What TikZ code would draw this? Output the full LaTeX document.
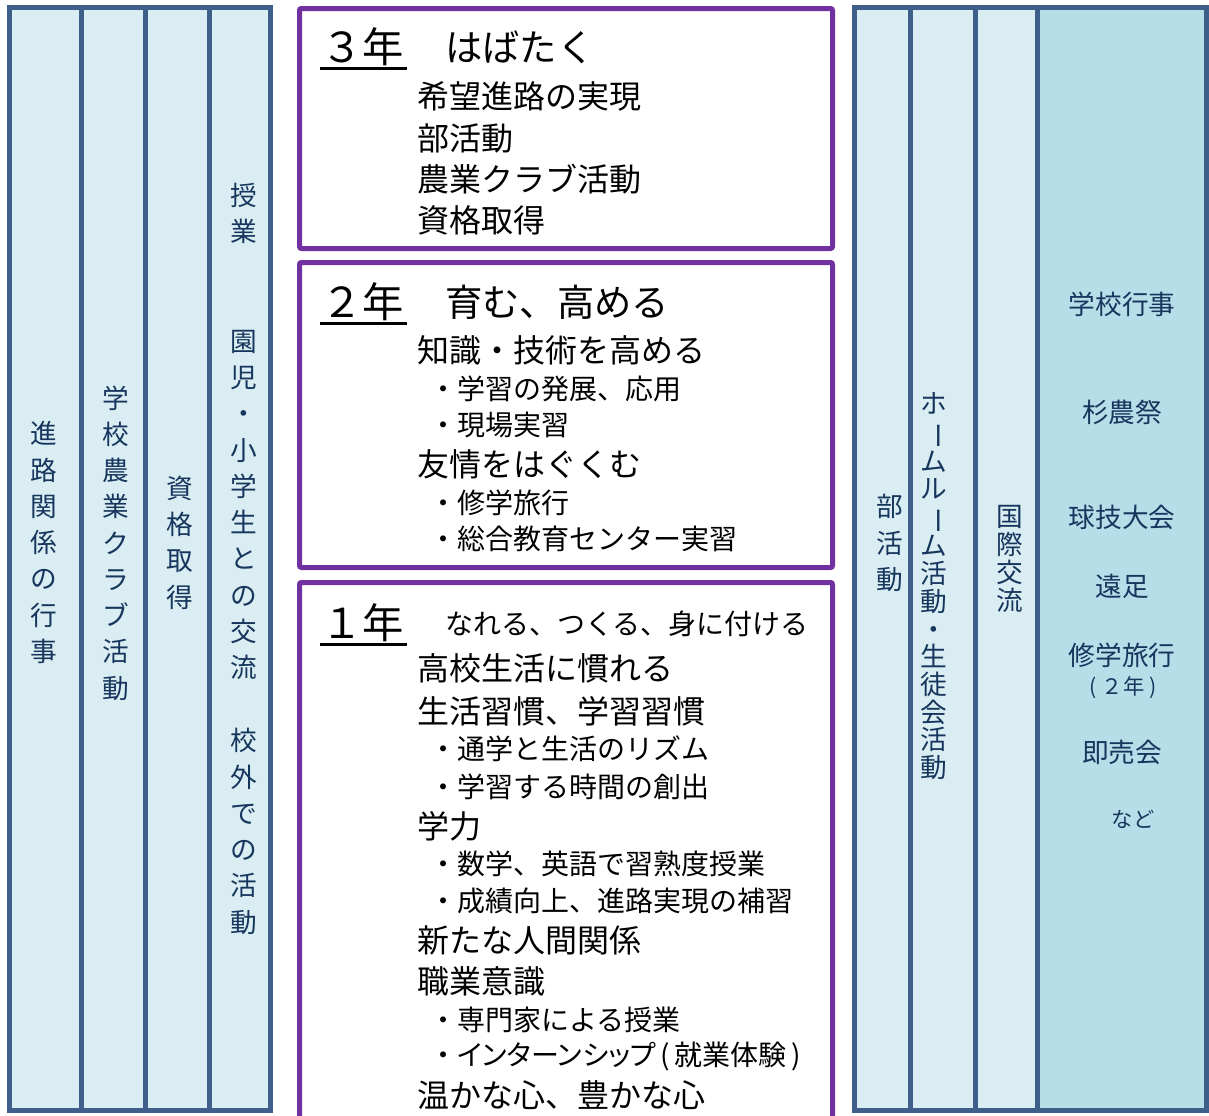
\documentclass[tikz,border=0pt]{standalone}
\usepackage{graphicx}
\usepackage{fontspec}
\setmainfont{Noto Sans CJK JP}
\definecolor{colline}{RGB}{61,95,138}
\definecolor{colfill}{RGB}{218,237,243}
\definecolor{colfilldark}{RGB}{183,221,232}
\definecolor{yearpurple}{RGB}{112,48,160}
\definecolor{navy}{RGB}{23,54,93}
\newcommand{\tatebar}{\rotatebox[origin=c]{-90}{ー}}
\newcommand{\propkana}[1]{{\addfontfeature{RawFeature=+palt}#1}}
\tikzset{
  col/.style={draw=colline, line width=3.75pt, fill=colfill},
  coldark/.style={col, fill=colfilldark},
  yearbox/.style={draw=yearpurple, line width=3.75pt, rounded corners=1.5pt},
  coltext/.style={text=navy, align=center, inner sep=0pt, font=\fontsize{20}{27.2}\selectfont},
  coltight/.style={coltext, font=\fontsize{20}{20.8}\selectfont},
  evtext/.style={text=navy, inner sep=0pt, font=\fontsize{20}{24}\selectfont},
  evsmall/.style={evtext, font=\fontsize{16}{19}\selectfont},
  yearlabel/.style={anchor=west, inner sep=0pt, font=\fontsize{31}{36}\selectfont},
  tagline/.style={anchor=west, inner sep=0pt, font=\fontsize{28}{32}\selectfont},
  mainitem/.style={anchor=west, inner sep=0pt, font=\fontsize{24}{28}\selectfont},
  subitem/.style={anchor=west, inner sep=0pt, font=\fontsize{21}{25}\selectfont},
  uline/.style={line width=2.25pt}
}
\begin{document}
\begin{tikzpicture}[x=0.75pt,y=-0.75pt]
\useasboundingbox (0,0) rectangle (1209,1115);

% left columns
\foreach \a/\b in {9.5/81,81/145.5,145.5/209.5,209.5/270.5}
{	\draw[col] (\a,7.5) rectangle (\b,1110.5);
}
\node[coltext] (shinro) at (44,542.5) {進\\路\\関\\係\\の\\行\\事};
\node[coltext] (club) at (116,543) {学\\校\\農\\業\\ク\\ラ\\ブ\\活\\動};
\node[coltext] (shikaku) at (180,542.5) {資\\格\\取\\得};
\node[coltext] (jugyo) at (244,213.5) {授\\業};
\node[coltext] (koryu) at (244,505) {園\\児\\・\\小\\学\\生\\と\\の\\交\\流};
\node[coltext] (kogai) at (244,831.5) {校\\外\\で\\の\\活\\動};

% right columns
\foreach \a/\b in {854.5/910.5,910.5/975.5,975.5/1037.5}
{	\draw[col] (\a,7.5) rectangle (\b,1110.5);
}
\draw[coldark] (1037.5,7.5) rectangle (1206.5,1110.5);
\node[coltext] (bukatsu) at (890,543) {部\\活\\動};
\node[coltight] (hr) at (934,586.5) {ホ\\\tatebar\\ム\\ル\\\tatebar\\ム\\活\\動\\・\\生\\徒\\会\\活\\動};
\node[coltight] (kokusai) at (1010,559) {国\\際\\交\\流};
\foreach \y/\t in {304/学校行事,412/杉農祭,517/球技大会,586/遠足,655/修学旅行,752/即売会}
{	\node[evtext] (ev-\y) at (1122,\y) {\t};
}
\node[evsmall] (ev-nen) at (1123,688) {( ２年 )};
\node[evsmall] (ev-nado) at (1133,819) {など};

% 3rd year
\draw[yearbox] (299.5,8.5) rectangle (832.5,248.5);
\node[yearlabel] (y3) at (321,47) {３年};
\draw[uline] ([xshift=-1pt,yshift=-1.5pt]y3.south west) -- ([xshift=2pt,yshift=-1.5pt]y3.south east);
\node[tagline] (y3-tag) at (445,47) {はばたく};
\foreach \y/\t in {96/希望進路の実現,138/部活動,179/農業クラブ活動,220/資格取得}
{	\node[mainitem] (y3-\y) at (417,\y) {\t};
}

% 2nd year
\draw[yearbox] (299.5,262.5) rectangle (832.5,567.5);
\node[yearlabel] (y2) at (321,302) {２年};
\draw[uline] ([xshift=-1pt,yshift=-1.5pt]y2.south west) -- ([xshift=2pt,yshift=-1.5pt]y2.south east);
\node[tagline] (y2-tag) at (445,302) {育む、高める};
\foreach \s/\x/\y/\t in {mainitem/417/350/知識・技術を高める,subitem/429/389/・学習の発展、応用,
  subitem/429/425/・現場実習,mainitem/417/464/友情をはぐくむ,subitem/429/503/・修学旅行,
  subitem/429/539/・総合教育センター実習}
{	\node[\s] (y2-\y) at (\x,\y) {\t};
}

% 1st year
\draw[yearbox] (299.5,582.5) rectangle (832.5,1140);
\node[yearlabel] (y1) at (321,623) {１年};
\draw[uline] ([xshift=-1pt,yshift=-1.5pt]y1.south west) -- ([xshift=2pt,yshift=-1.5pt]y1.south east);
\node[tagline, font=\fontsize{21}{25}\selectfont] (y1-tag) at (445,624) {なれる、つくる、身に付ける};
\foreach \s/\x/\y/\t in {mainitem/417/668/高校生活に慣れる,mainitem/417/711/生活習慣、学習習慣,
  subitem/429/749/・通学と生活のリズム,subitem/429/787/・学習する時間の創出,mainitem/417/826/学力,
  subitem/429/864/・数学、英語で習熟度授業,subitem/429/901/・成績向上、進路実現の補習,
  mainitem/417/940/新たな人間関係,mainitem/417/981/職業意識,subitem/429/1020/・専門家による授業,
  subitem/429/1056/・\propkana{インターンシップ}\,(\,就業体験\,),mainitem/417/1095/温かな心、豊かな心}
{	\node[\s] (y1-\y) at (\x,\y) {\t};
}
\end{tikzpicture}
\end{document}
